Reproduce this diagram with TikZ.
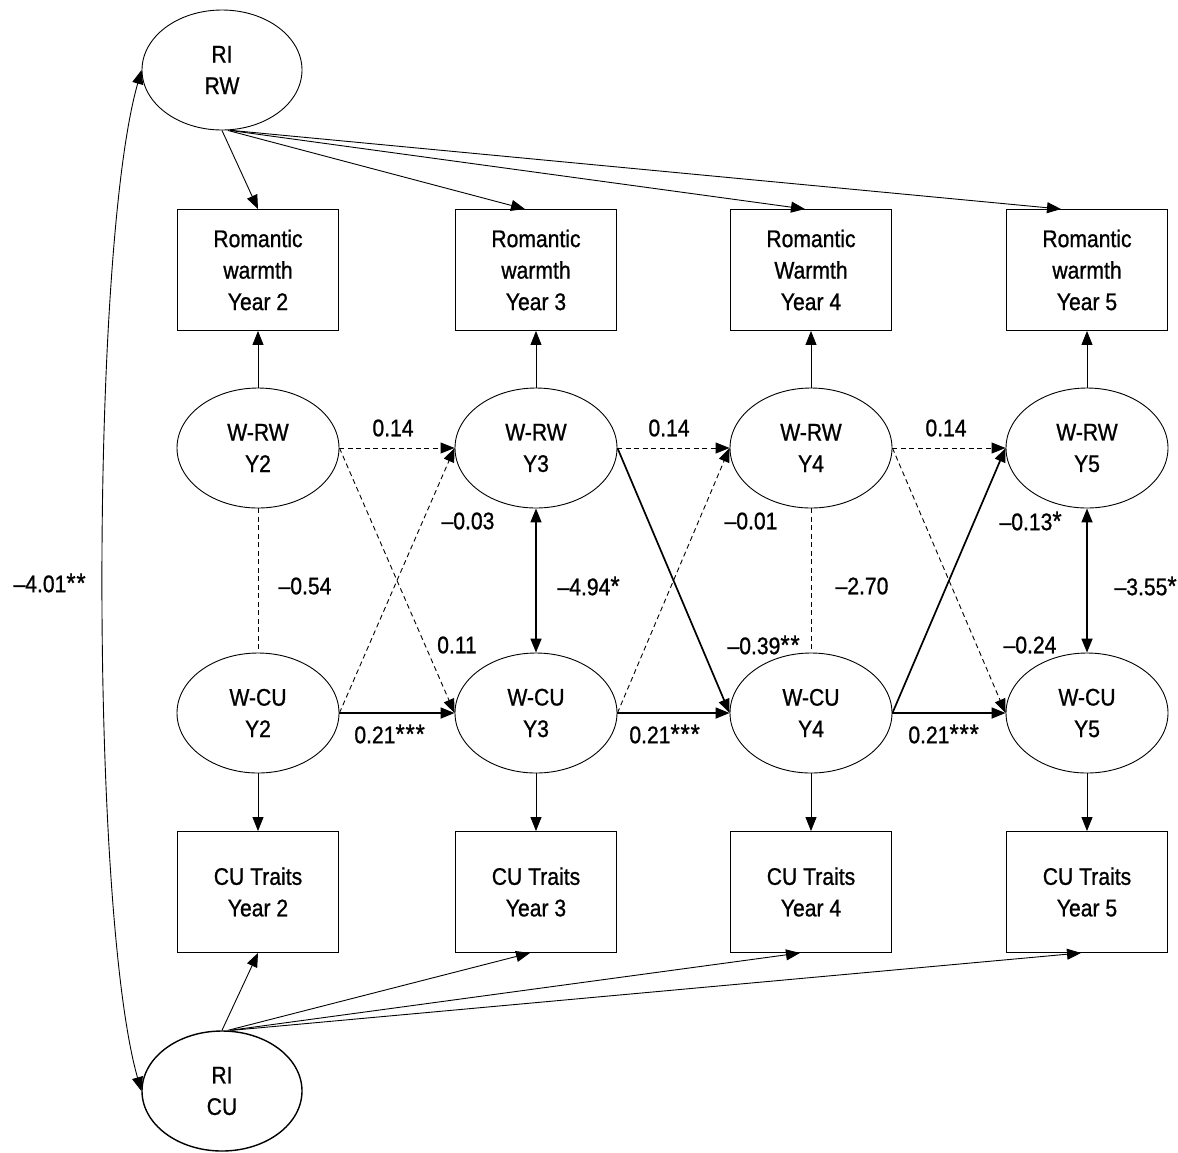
\documentclass[tikz,border=0pt]{standalone}
\usepackage{fontspec}
\setmainfont{Liberation Sans}[FakeStretch=0.88,FakeBold=0.9]
\usetikzlibrary{arrows.meta,calc,shapes.geometric}
% significance star, set a little larger than the digits
\newcommand{\sgstar}{{\fontsize{27}{27}\selectfont *}\kern0.8pt}

\begin{document}
\begin{tikzpicture}[x=1pt,y=-1pt,
  every node/.style={font=\fontsize{24}{31.5}\selectfont, align=center, inner sep=0pt},
  latent/.style={draw, ellipse, minimum width=162pt, minimum height=120pt, line width=0.9pt},
  obs/.style={draw, rectangle, minimum width=161pt, minimum height=121pt, line width=0.9pt},
  tip/.tip={Triangle[length=14pt,width=11pt]},
  path/.style={line width=0.9pt, -tip},
  strong/.style={line width=1.7pt, -tip},
  weak/.style={line width=0.9pt, dash pattern=on 5pt off 3.5pt, -tip},
  corr/.style={line width=1.7pt, tip-tip},
  nullcorr/.style={line width=0.9pt, dash pattern=on 5pt off 3.5pt}]

\useasboundingbox (0,0) rectangle (1178,1152);

% observed measures and within-person latent factors, one column per year
\foreach \i/\x in {2/258,3/536,4/811,5/1087}{
  \node[latent] (wrw\i) at (\x,448) {W-RW\\Y\i};
  \node[latent] (wcu\i) at (\x,713) {W-CU\\Y\i};
  \node[obs] (cu\i) at (\x,892) {CU Traits\\Year \i};
}
\node[obs] (rw2) at (258,270) {Romantic\\warmth\\Year 2};
\node[obs] (rw3) at (536,270) {Romantic\\warmth\\Year 3};
\node[obs] (rw4) at (811,270) {Romantic\\Warmth\\Year 4};
\node[obs] (rw5) at (1087,270) {Romantic\\warmth\\Year 5};

% random intercepts
\node[latent, minimum width=160pt] (rirw) at (222,70) {RI\\RW};
\node[latent, minimum width=160pt, line width=1.4pt] (ricu) at (222,1091) {RI\\CU};

% random intercept loadings
\draw[path] (rirw.south) -- (rw2.north);
\draw[path] ($(rirw.south)+(6,0)$) -- ($(rw3.north)+(-11,0)$);
\draw[path] ($(rirw.south)+(8,0)$) -- ($(rw4.north)+(-6,0)$);
\draw[path] ($(rirw.south)+(10,0)$) -- ($(rw5.north)+(-26,0)$);
\draw[path] (ricu.north) -- (cu2.south);
\draw[path] ($(ricu.north)+(6,0)$) -- ($(cu3.south)+(-6,0)$);
\draw[path] ($(ricu.north)+(8,0)$) -- ($(cu4.south)+(-11,0)$);
\draw[path] ($(ricu.north)+(10,0)$) -- ($(cu5.south)+(-6,0)$);

% random intercept covariance
\draw[line width=0.9pt, tip-tip] (rirw.west) .. controls (90,250) and (90,910) .. (ricu.west);
\node at (50,583) {--4.01\sgstar\sgstar};

% within-person loadings
\foreach \i in {2,3,4,5}{
  \draw[path] (wrw\i.north) -- (rw\i.south);
  \draw[path] (wcu\i.south) -- (cu\i.north);
}

% autoregressive paths
\draw[weak] (wrw2.east) -- (wrw3.west);
\draw[weak] (wrw3.east) -- (wrw4.west);
\draw[weak] (wrw4.east) -- (wrw5.west);
\draw[strong] (wcu2.east) -- (wcu3.west);
\draw[strong] (wcu3.east) -- (wcu4.west);
\draw[strong] (wcu4.east) -- (wcu5.west);
\node at (393,428) {0.14};
\node at (669,428) {0.14};
\node at (946,428) {0.14};
\node at (390,734) {0.21\sgstar\sgstar\sgstar};
\node at (665,734) {0.21\sgstar\sgstar\sgstar};
\node at (944,734) {0.21\sgstar\sgstar\sgstar};

% cross-lagged paths
\draw[weak] (wrw2.east) -- (wcu3.west);
\draw[weak] (wcu2.east) -- (wrw3.west);
\draw[strong] (wrw3.east) -- (wcu4.west);
\draw[weak] (wcu3.east) -- (wrw4.west);
\draw[weak] (wrw4.east) -- (wcu5.west);
\draw[strong] (wcu4.east) -- (wrw5.west);
\node at (468,521) {--0.03};
\node at (457,645) {0.11};
\node at (751,521) {--0.01};
\node at (764,645) {--0.39\sgstar\sgstar};
\node at (1031,521) {--0.13\sgstar};
\node at (1030,645) {--0.24};

% within-time covariances
\draw[nullcorr] (wrw2.south) -- (wcu2.north);
\draw[corr] (wrw3.south) -- (wcu3.north);
\draw[nullcorr] (wrw4.south) -- (wcu4.north);
\draw[corr] (wrw5.south) -- (wcu5.north);
\node at (305,586) {--0.54};
\node at (589,586) {--4.94\sgstar};
\node at (862,586) {--2.70};
\node at (1146,586) {--3.55\sgstar};

\end{tikzpicture}
\end{document}
